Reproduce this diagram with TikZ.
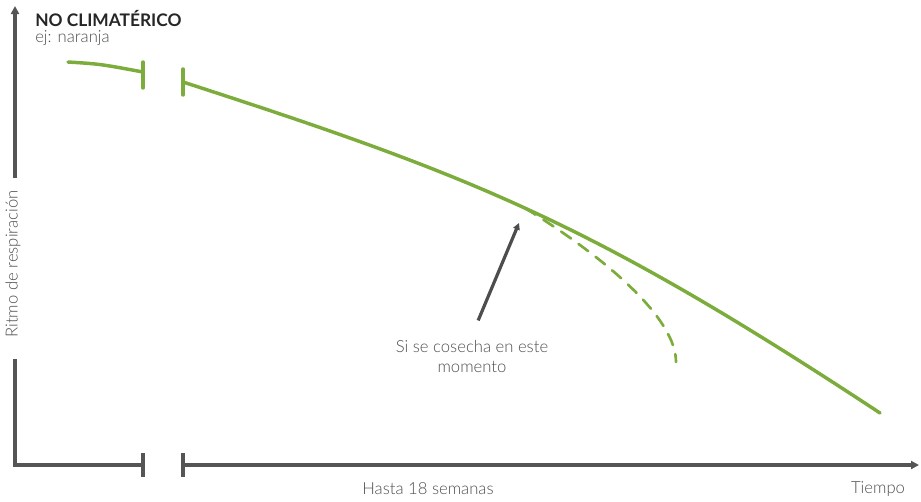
\documentclass[tikz,border=0pt]{standalone}
\usepackage{fontspec}
\setmainfont{Lato}
\newfontfamily\ligera{Lato Light}
\usetikzlibrary{arrows.meta}

\definecolor{verde}{HTML}{7CAC3C}
\definecolor{grisEje}{HTML}{555555}
\definecolor{grisTexto}{HTML}{4D4D4D}

\begin{document}
\begin{tikzpicture}[x=0.75pt, y=-0.75pt,
  eje/.style={draw=grisEje, line width=3pt},
  curva/.style={draw=verde, line width=2.6pt, line cap=round},
  etiqueta/.style={text=grisTexto, font=\ligera\fontsize{12.5}{15}\selectfont}]
\useasboundingbox (0,0) rectangle (921,501);
% ejes
\draw[eje] (15,359) -- (15,465) -- (143,465);
\draw[eje, ->, >={Triangle[length=6pt, width=6pt]}] (15,178) -- (15,6);
\draw[eje, ->, >={Triangle[length=6pt, width=6pt]}] (183,465) -- (919,465);
\draw[eje] (143,453) -- (143,477);
\draw[eje] (183,453) -- (183,477);
% curva de respiracion
\draw[curva] (68,62) .. controls (100,64) .. (143,72);
\draw[curva] (143,62) -- (143,88);
\draw[curva] (183,69) -- (183,95);
\draw[curva] (183,82) .. controls (473,176) and (590,222) .. (880,413)
  coordinate[pos=0.49] (corte);
\draw[curva, line width=2pt, dash pattern=on 9pt off 7pt] (corte) .. controls (612,262) and (676,320) .. (676,362);
% textos
\node[anchor=base west, inner sep=0pt, text=black!85, font=\fontsize{13}{15}\selectfont\bfseries] (titulo) at (35,26) {NO CLIMATÉRICO};
\node[etiqueta, anchor=base west, inner sep=0pt] (fruto) at (35,42) {ej: naranja};
\node[etiqueta, rotate=90] (ritmo) at (13,264) {Ritmo de respiración};
\node[etiqueta] (hasta) at (428,489) {Hasta 18 semanas};
\node[etiqueta] (tiempo) at (878,489) {Tiempo};
\node[etiqueta, align=center] (cosecha) at (472,356) {Si se cosecha en este\\momento};
\coordinate (momento) at (519,223);
\draw[draw=grisTexto, line width=2.4pt, ->, >={Triangle[length=5pt, width=5pt]}, shorten <=12pt] (cosecha.north) -- (momento);
\end{tikzpicture}
\end{document}
